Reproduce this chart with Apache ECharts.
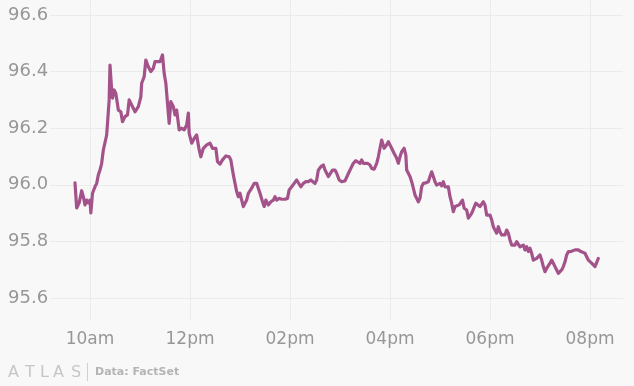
<!DOCTYPE html>
<html>
<head>
<meta charset="utf-8">
<script src="https://cdn.jsdelivr.net/npm/echarts@6/dist/echarts.min.js"></script>
<style>
html,body{margin:0;padding:0;background:#f8f8f8;}
#chart{width:634px;height:386px;}
</style>
</head>
<body>
<div id="chart"></div>
<script>
// ---- data ----
var times = [
"09:42","09:44","09:47","09:50","09:52","09:54","09:56","09:58","10:00","10:01",
"10:03","10:06","10:08","10:10","10:12","10:14","10:16","10:18","10:20","10:21",
"10:23","10:24","10:26","10:27","10:29","10:31","10:34","10:37","10:39","10:42",
"10:45","10:47","10:50","10:54","10:58","11:01","11:02","11:05","11:07","11:10",
"11:13","11:16","11:18","11:20","11:24","11:27","11:29","11:31","11:33","11:35",
"11:37","11:40","11:42","11:44","11:47","11:50","11:53","11:56","11:58","11:59",
"12:02","12:05","12:08","12:11","12:13","12:16","12:20","12:24","12:27","12:29",
"12:31","12:33","12:36","12:39","12:43","12:47","12:49","12:52","12:54","12:56",
"12:58","13:00","13:02","13:04","13:06","13:08","13:10","13:14","13:17","13:20",
"13:22","13:24","13:27","13:29","13:31","13:34","13:37","13:40","13:42","13:44",
"13:47","13:50","13:54","13:57","13:59","14:02","14:05","14:08","14:10","14:13",
"14:16","14:19","14:22","14:25","14:27","14:30","14:32","14:34","14:37","14:40",
"14:42","14:44","14:46","14:48","14:51","14:54","14:56","14:59","15:02","15:06",
"15:08","15:11","15:13","15:16","15:19","15:21","15:24","15:26","15:28","15:30",
"15:33","15:36","15:38","15:41","15:44","15:46","15:48","15:50","15:52","15:53",
"15:56","15:58","16:00","16:02","16:04","16:06","16:08","16:10","16:12","16:14",
"16:17","16:19","16:20","16:22","16:24","16:26","16:28","16:30","16:32","16:34",
"16:36","16:38","16:40","16:43","16:46","16:48","16:50","16:52","16:54","16:56",
"16:58","17:00","17:02","17:04","17:06","17:08","17:10","17:12","17:14","17:16",
"17:18","17:20","17:23","17:25","17:27","17:29","17:32","17:34","17:36","17:38",
"17:40","17:43","17:45","17:48","17:50","17:52","17:54","17:56","17:58","18:00",
"18:02","18:04","18:06","18:08","18:10","18:12","18:14","18:16","18:18","18:20",
"18:22","18:24","18:26","18:28","18:30","18:32","18:34","18:36","18:38","18:40",
"18:42","18:44","18:46","18:48","18:50","18:52","18:54","18:56","18:58","19:00",
"19:02","19:04","19:06","19:08","19:10","19:12","19:14","19:16","19:18","19:20",
"19:22","19:24","19:26","19:28","19:30","19:32","19:34","19:37","19:39","19:42",
"19:44","19:46","19:49","19:51","19:54","19:56","19:58","20:00","20:02","20:04",
"20:06","20:08","20:10"
];
var prices = [
96.007,95.918,95.936,95.979,95.958,95.929,95.946,95.936,95.946,95.901,
95.970,95.993,96.005,96.035,96.052,96.076,96.123,96.117,96.176,96.217,
96.300,96.423,96.335,96.306,96.335,96.323,96.264,96.258,96.223,96.241,
96.247,96.300,96.282,96.258,96.276,96.311,96.359,96.382,96.441,96.417,
96.400,96.412,96.435,96.441,96.435,96.459,96.394,96.359,96.364,96.217,
96.294,96.276,96.247,96.264,96.194,96.200,96.194,96.211,96.253,96.182,
96.147,96.164,96.176,96.123,96.099,96.129,96.141,96.147,96.129,96.135,
96.129,96.082,96.073,96.088,96.102,96.099,96.088,96.035,96.029,95.976,
95.958,95.970,95.964,95.923,95.923,95.946,95.970,95.988,96.005,96.005,
95.999,95.970,95.940,95.923,95.946,95.929,95.940,95.946,95.958,95.946,
95.952,95.949,95.949,95.952,95.982,95.993,96.005,96.017,96.023,95.993,
96.005,96.011,96.011,96.017,96.023,96.005,96.017,96.052,96.064,96.070,
96.052,96.041,96.029,96.035,96.052,96.052,96.041,96.017,96.011,96.014,
96.017,96.046,96.058,96.076,96.085,96.088,96.076,96.088,96.076,96.070,
96.076,96.070,96.058,96.055,96.076,96.099,96.129,96.158,96.152,96.129,
96.141,96.152,96.141,96.129,96.117,96.105,96.094,96.076,96.099,96.117,
96.129,96.105,96.052,96.046,96.029,96.011,95.988,95.964,95.952,95.940,
95.952,95.993,96.005,96.007,96.011,96.029,96.046,96.029,96.011,95.999,
95.993,96.005,95.996,96.011,95.993,95.999,95.993,95.958,95.935,95.905,
95.923,95.929,95.929,95.935,95.946,95.917,95.911,95.882,95.887,95.899,
95.905,95.935,95.937,95.923,95.929,95.940,95.929,95.893,95.890,95.893,
95.876,95.852,95.840,95.829,95.852,95.834,95.823,95.829,95.823,95.840,
95.829,95.805,95.787,95.781,95.787,95.799,95.793,95.781,95.776,95.787,
95.770,95.781,95.764,95.776,95.758,95.734,95.728,95.740,95.746,95.752,
95.734,95.711,95.693,95.705,95.711,95.723,95.734,95.723,95.711,95.699,
95.687,95.681,95.699,95.711,95.728,95.752,95.764,95.764,95.760,95.770,
95.764,95.770,95.764,95.767,95.758,95.746,95.734,95.728,95.723,95.717,
95.711,95.717,95.740
];
var tickHours  = [10, 12, 14, 16, 18, 20];
var tickLabels = ["10am", "12pm", "02pm", "04pm", "06pm", "08pm"];
var yTicks = [95.6, 95.8, 96.0, 96.2, 96.4, 96.6];

// ---- build ----
function toHours(s) { var p = s.split(":"); return +p[0] + (+p[1]) / 60; }
var seriesData = times.map(function (t, i) { return [toHours(t), prices[i]]; });

var FONT = "DejaVu Sans";
var chart = echarts.init(document.getElementById("chart"), null, { renderer: "canvas" });

// pixel layout: 96.6 at y=15, 95.6 at y=298 ; vertical grid spans y 0..321
var pxPerUnit = 283;
var yTop = yTicks[yTicks.length - 1] + 15 / pxPerUnit;
var yBot = yTicks[0] - 23 / pxPerUnit;

chart.setOption({
  backgroundColor: "#f8f8f8",
  animation: false,
  grid: [
    { left: -10, right: -56, top: 0, height: 321, outerBoundsMode: "none", containLabel: false },
    { left: 50, right: 11, top: 15, height: 283, outerBoundsMode: "none", containLabel: false }
  ],
  xAxis: [
    {
      gridIndex: 0, type: "value", min: 8, max: 22, interval: 2,
      axisLine: { show: false }, axisTick: { show: false },
      splitLine: { show: true, lineStyle: { color: "#ebebeb", width: 1 } },
      axisLabel: {
        margin: 10, color: "#979797", fontFamily: FONT, fontSize: 17,
        formatter: function (v) {
          var k = tickHours.indexOf(Math.round(v));
          return (k >= 0 && Math.abs(v - tickHours[k]) < 1e-6) ? tickLabels[k] : "";
        }
      }
    },
    {
      gridIndex: 1, type: "value", min: 0, max: 1, show: false,
      splitLine: { show: false }
    }
  ],
  yAxis: [
    {
      gridIndex: 0, type: "value", min: yBot, max: yTop, show: false,
      splitLine: { show: false }
    },
    {
      gridIndex: 1, type: "value", min: yTicks[0], max: yTicks[yTicks.length - 1], interval: 0.2,
      axisLine: { show: false }, axisTick: { show: false },
      splitLine: { show: true, lineStyle: { color: "#ebebeb", width: 1 } },
      axisLabel: {
        margin: 42, align: "left", color: "#979797", fontFamily: FONT, fontSize: 18,
        formatter: function (v) { return v.toFixed(1); }
      }
    }
  ],
  series: [{
    type: "line",
    xAxisIndex: 0, yAxisIndex: 0,
    data: seriesData,
    showSymbol: false,
    smooth: false,
    lineStyle: { color: "#a4538a", width: 3.2, join: "round", cap: "round" },
    z: 5
  }],
  graphic: [
    { type: "text", left: 8, top: 365, style: { text: "A", font: "16px 'DejaVu Sans'", fill: "#c6c6c6" } },
    { type: "text", left: 25, top: 365, style: { text: "T", font: "16px 'DejaVu Sans'", fill: "#c6c6c6" } },
    { type: "text", left: 40, top: 365, style: { text: "L", font: "16px 'DejaVu Sans'", fill: "#c6c6c6" } },
    { type: "text", left: 53, top: 365, style: { text: "A", font: "16px 'DejaVu Sans'", fill: "#c6c6c6" } },
    { type: "text", left: 71, top: 365, style: { text: "S", font: "16px 'DejaVu Sans'", fill: "#c6c6c6" } },
    { type: "rect", shape: { x: 87, y: 363, width: 1, height: 18 }, style: { fill: "#d0d0d0" } },
    { type: "text", left: 95, top: 367, style: { text: "Data: FactSet", font: "bold 11px 'DejaVu Sans'", fill: "#b4b4b4" } }
  ]
});
</script>
</body>
</html>
